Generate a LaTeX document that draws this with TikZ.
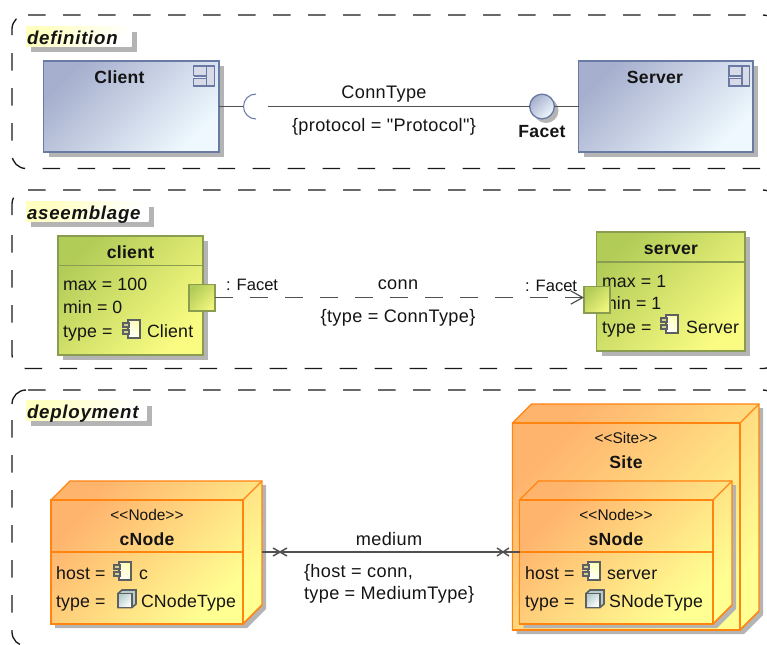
\documentclass[tikz,border=0pt]{standalone}
\usepackage{fontspec}
\newfontfamily\labelfam[LetterSpace=2]{Liberation Sans}
\newfontfamily\attrfam[LetterSpace=1]{Liberation Sans}
\newfontfamily\boldfam[LetterSpace=1.5]{Liberation Sans}
\newfontfamily\tabfam[LetterSpace=4]{Liberation Sans}
\newfontfamily\plainfam{Liberation Sans}
\usetikzlibrary{arrows.meta,shadows,fit}
\definecolor{shgray}{HTML}{B4B4B4}
\definecolor{txtc}{HTML}{141414}
\definecolor{linec}{HTML}{505050}
\definecolor{blueA}{HTML}{A6AFCD}
\definecolor{blueB}{HTML}{EEF8FE}
\definecolor{blueS}{HTML}{6A7AA4}
\definecolor{greenA}{HTML}{B2CC58}
\definecolor{greenB}{HTML}{FAFC82}
\definecolor{greenS}{HTML}{8A9C50}
\definecolor{orgA}{HTML}{FFB46E}
\definecolor{orgB}{HTML}{FFFF92}
\definecolor{orgS}{HTML}{FF8410}
\definecolor{iconS}{HTML}{5C6060}
\tikzset{
  frameline/.style={line width=1pt,black!90},
  dashy/.style={frameline,dash pattern=on 13.125pt off 13.125pt},
  txt/.style={inner sep=0pt,outer sep=0pt,text=txtc,font=\labelfam\fontsize{13.6}{15}\selectfont},
  attr/.style={txt,font=\attrfam\fontsize{13.3}{15}\selectfont},
  bold/.style={txt,font=\boldfam\fontsize{13.2}{15}\selectfont\bfseries},
  small/.style={txt,font=\plainfam\fontsize{11.6}{14}\selectfont},
  portlabel/.style={txt,font=\plainfam\fontsize{12.4}{14}\selectfont},
  tabtitle/.style={txt,font=\tabfam\fontsize{14}{15}\selectfont\bfseries\itshape},
  diag/.style args={#1 to #2}{top color=#1,bottom color=#2,shading angle=45},
  dropsh/.style={general shadow={shadow xshift=3.75pt,shadow yshift=-3.75pt,fill=shgray}},
  blockbox/.style={inner sep=0pt,outer sep=0pt,line width=1pt,draw=blueS,diag=blueA to blueB,dropsh},
  partbox/.style={inner sep=0pt,outer sep=0pt,line width=1pt,draw=greenS,diag=greenA to greenB,dropsh},
  portbox/.style={inner sep=0pt,outer sep=0pt,line width=1pt,draw=greenS,diag=greenA to {greenB!85!greenA}},
  nodefront/.style={inner sep=0pt,outer sep=0pt,line width=1pt,draw=orgS,diag=orgA to orgB},
  conn/.style={line width=.9pt,draw=linec},
  icon/.style={line width=1.1pt,draw=iconS},
}
\newcommand{\nodebox}[7]{% name x1 y1 x2 y2 depth header-y
  \fill[shgray] (#2+4,#3+4) -- (#2+#6+4,#3-#6+4) -- (#4+#6+4,#3-#6+4) -- (#4+#6+4,#5-#6+4) -- (#4+4,#5+4) -- (#2+4,#5+4) -- cycle;
  \draw[line width=1pt,draw=orgS,diag=orgA to orgB] (#2,#3) -- (#2+#6,#3-#6) -- (#4+#6,#3-#6) -- (#4+#6,#5-#6) -- (#4,#5) -- (#2,#5) -- cycle;
  \node[nodefront,fit={(#2,#3)(#4,#5)}] (#1) {};
  \draw[line width=1pt,draw=orgS] (#4,#3) -- (#4+#6,#3-#6);
  \draw[line width=1pt,draw=orgS] (#4,#5) -- (#4+#6,#5-#6);
  \ifx&#7&\else\draw[line width=1pt,draw=orgS] (#2,#7) -- (#4,#7);\fi
}
\newcommand{\compicon}[2]{% x y top left of small component icon
  \begin{scope}[shift={(#1,#2)}]
    \draw[icon,top color=yellow!30,bottom color=white,shading angle=-45] (5,0) rectangle (17,18);
    \draw[icon,fill=yellow!45!gray!70] (0,3) rectangle (6,7);
    \draw[icon,fill=yellow!45!gray!70] (0,10) rectangle (6,14);
  \end{scope}
}
\newcommand{\cubeicon}[2]{%
  \begin{scope}[shift={(#1,#2)}]
    \draw[icon,line width=1.2pt,fill=gray!60!teal!40] (0,3.5) -- (4,0) -- (18,0) -- (18,14) -- (14,17.5) -- (0,17.5) -- cycle;
    \draw[icon,line width=1.2pt,top color=gray!60!teal!40,bottom color=white,shading angle=45] (0,3.5) rectangle (14,17.5);
  \end{scope}
}
\newcommand{\blockicon}[2]{%
  \begin{scope}[shift={(#1,#2)}]
    \draw[blueS,line width=1pt,fill=blueA!45] (0,0) rectangle (20.5,20);
    \fill[blueA!30!white] (-.4,10) rectangle (13,12.2);
    \draw[blueS,line width=1pt] (0,10) -- (13,10) -- (13,12.2) -- (0,12.2);
    \draw[blueS,line width=1pt] (13,0) -- (13,10) (13,12.2) -- (13,20);
  \end{scope}
}
\begin{document}
\begin{tikzpicture}[x=.75pt,y=-.75pt]
\useasboundingbox (0,0) rectangle (767,644);
\clip (0,0) rectangle (767,644);
% ---- frames
\draw[dashy] (28,15) -- (763,15) .. controls (770.7,15) and (777,21.3) .. (777,29);
\draw[frameline,dash pattern=on 13.125pt off 100pt] (12,35) -- (12,29) .. controls (12,21.3) and (18.3,15) .. (26,15);
\draw[dashy] (12,53) -- (12,154.5) .. controls (12,162.2) and (18.3,168.5) .. (26,168.5) -- (763,168.5) .. controls (770.7,168.5) and (777,162) .. (777,154.5);
\draw[dashy] (28,190) -- (763,190) .. controls (770.7,190) and (777,196.3) .. (777,204);
\draw[frameline,dash pattern=on 13.125pt off 100pt] (12,215) -- (12,204) .. controls (12,196.3) and (18.3,190) .. (26,190);
\draw[dashy] (12,235) -- (12,354.5) .. controls (12,362.2) and (18.3,368.5) .. (26,368.5) -- (763,368.5) .. controls (770.7,368.5) and (777,362) .. (777,354.5);
\draw[dashy] (28,390) -- (763,390) .. controls (770.7,390) and (777,396.3) .. (777,404);
\draw[frameline] (12,404) .. controls (12,396.3) and (18.3,390) .. (26,390);
\draw[dashy] (12,420) -- (12,632) .. controls (12,639.7) and (18.3,646) .. (26,646);
% ---- title tabs
\fill[shgray] (31.3,32) rectangle (136.7,51.7);
\path[top color=yellow!25,bottom color=white,shading angle=45] (26,26.7) rectangle (131.5,46.7);
\node[tabtitle,anchor=base west] (tDef) at (27,44) {definition};
\fill[shgray] (31.3,207) rectangle (154,226.7);
\path[top color=yellow!25,bottom color=white,shading angle=45] (26,201.7) rectangle (148.5,221.7);
\node[tabtitle,anchor=base west] (tAsm) at (27,219) {aseemblage};
\fill[shgray] (31.3,405.5) rectangle (152,426);
\path[top color=yellow!25,bottom color=white,shading angle=45] (26,400) rectangle (146.5,420.7);
\node[tabtitle,anchor=base west] (tDep) at (27,418) {deployment};
% ---- definition
\node[blockbox,fit={(43.5,61)(219,152)}] (Client) {};
\node[blockbox,fit={(578.5,61)(753,152)}] (Server) {};
\blockicon{193.8}{66}
\blockicon{729}{66}
\node[bold,anchor=base] (lClient) at (119.5,83) {Client};
\node[bold,anchor=base] (lServer) at (655,83) {Server};
\coordinate (sockL) at (243.5,106.5);
\coordinate (sockR) at (268,106.5);
\fill[shgray] (546,110.5) circle[radius=12.5];
\node[circle,inner sep=0pt,outer sep=0pt,minimum size=18.5pt,line width=1pt,draw=blueS,diag=blueA to blueB] (Facet) at (542,106.5) {};
\draw[conn] (Client.east |- sockL) -- (sockL);
\draw[line width=.8pt,draw=blueS] (256,94) .. controls (249,94) and (243.5,99.6) .. (243.5,106.5) .. controls (243.5,113.4) and (249,119) .. (256,119);
\draw[conn] (sockR) -- (Facet.west);
\draw[conn] (Facet.east) -- (Server.west |- Facet.east);
\node[txt,anchor=base] (lConnType) at (384,98) {ConnType};
\node[txt,anchor=base] (lProto) at (384,131) {\{protocol = "Protocol"\}};
\node[bold,anchor=base] (lFacet) at (542,137) {Facet};
% ---- assemblage
\node[partbox,fit={(58,236)(203,355)}] (client) {};
\draw[line width=1pt,draw=greenS] (client.west |- 0,265.5) -- (client.east |- 0,265.5);
\node[bold,anchor=base] (lclient) at (130.5,258) {client};
\node[attr,anchor=base west] (cMax) at (63,290) {max = 100};
\node[attr,anchor=base west] (cMin) at (63,313) {min = 0};
\node[attr,anchor=base west] (cType) at (63,337) {type =};
\compicon{123}{320}
\node[attr,anchor=base west] (cCl) at (147,337) {Client};
\node[portbox,fit={(189,284.5)(215,311)}] (pC) {};
\node[partbox,fit={(596.5,232)(745,351)}] (server) {};
\draw[line width=1pt,draw=greenS] (server.west |- 0,262) -- (server.east |- 0,262);
\node[bold,anchor=base] (lserver) at (671,254) {server};
\node[attr,anchor=base west] (sMax) at (602,287) {max = 1};
\node[attr,anchor=base west] (sMin) at (602,309) {min = 1};
\node[attr,anchor=base west] (sType) at (602,333) {type =};
\compicon{661}{315}
\node[attr,anchor=base west] (sSv) at (686,333) {Server};
\node[portbox,fit={(584,286.5)(610,313)}] (pS) {};
\draw[conn,draw=linec,dash pattern=on 13.125pt off 13.125pt,-{Straight Barb[length=9pt,width=10pt]}] (pC.east |- 0,297.5) -- (pS.west |- 0,297.5);
\node[portlabel,anchor=base west] (fL) at (226,290) {: Facet};
\node[portlabel,anchor=base west] (fR) at (525,291) {: Facet};
\node[txt,anchor=base] (lconn) at (398,289) {conn};
\node[txt,anchor=base] (ltype) at (398,322) {\{type = ConnType\}};
% ---- deployment
\nodebox{cNode}{51}{500}{243}{624}{19}{552}
\node[small,anchor=base] (s1) at (147,520) {<{}<Node>{}>};
\node[bold,anchor=base] (l1) at (147,545) {cNode};
\node[attr,anchor=base west] (h1) at (56,579) {host =};
\compicon{114}{562}
\node[attr,anchor=base west] (h1v) at (139,579) {c};
\node[attr,anchor=base west] (t1) at (56,607) {type =};
\cubeicon{118}{590}
\node[attr,anchor=base west] (t1v) at (141,607) {CNodeType};
\nodebox{Site}{512.5}{423}{740}{630}{19}{}
\node[small,anchor=base] (s2) at (626,443) {<{}<Site>{}>};
\node[bold,anchor=base] (l2) at (626,468) {Site};
\nodebox{sNode}{519.5}{500}{713}{624}{19}{552}
\node[small,anchor=base] (s3) at (616,520) {<{}<Node>{}>};
\node[bold,anchor=base] (l3) at (616,545) {sNode};
\node[attr,anchor=base west] (h3) at (525,579) {host =};
\compicon{583}{562}
\node[attr,anchor=base west] (h3v) at (607,579) {server};
\node[attr,anchor=base west] (t3) at (525,607) {type =};
\cubeicon{586}{590}
\node[attr,anchor=base west] (t3v) at (609,607) {SNodeType};
\coordinate (cRight) at (262,552);
\draw[conn] (cRight) -- (sNode.west |- cRight);
\draw[conn,line width=1.1pt] (273,548) -- (287,556) (273,556) -- (287,548);
\draw[conn,line width=1.1pt] (497,548) -- (509,556) (497,556) -- (509,548);
\node[txt,anchor=base] (lmed) at (389,545) {medium};
\node[txt,anchor=base west] (mh) at (304,577) {\{host = conn,};
\node[txt,anchor=base west] (mt) at (304,599) {type = MediumType\}};
\end{tikzpicture}
\end{document}
